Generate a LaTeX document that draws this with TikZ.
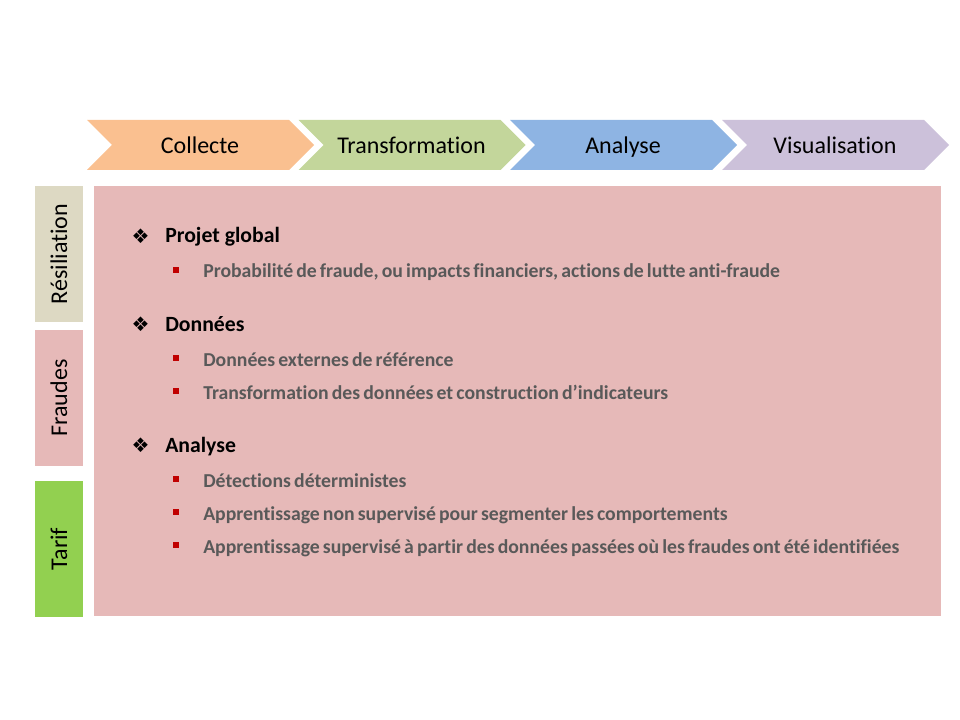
\documentclass[tikz,border=0pt]{standalone}
\usepackage{fontspec}
\setmainfont{Carlito}[Ligatures=NoCommon]
\newfontfamily\itemfont{Carlito}[Ligatures=NoCommon, WordSpace=0.7]
\newfontfamily\symfont{DejaVu Sans}
\usetikzlibrary{positioning}

\definecolor{chevorange}{HTML}{FAC090}
\definecolor{chevgreen}{HTML}{C3D69B}
\definecolor{chevblue}{HTML}{8EB4E3}
\definecolor{chevpurple}{HTML}{CCC1DA}
\definecolor{panelpink}{HTML}{E6B9B8}
\definecolor{resilbeige}{HTML}{DDD9C3}
\definecolor{tarifgreen}{HTML}{92D050}
\definecolor{itemgray}{HTML}{595959}
\definecolor{bulletred}{HTML}{C00000}

\begin{document}
\begin{tikzpicture}[
  x=0.75pt, y=-0.75pt,
  steptext/.style={anchor=base, inner sep=0pt,
    font=\fontsize{18}{21}\selectfont, text=black},
  sidebox/.style={fill=#1, draw=none, rotate=90, inner sep=0pt,
    minimum width=102pt, minimum height=36pt,
    font=\fontsize{18}{21}\selectfont},
  panel/.style={fill=panelpink, draw=none, inner sep=0pt,
    minimum width=635.25pt, minimum height=322.5pt},
  head/.style={anchor=base west, inner sep=0pt,
    font=\bfseries\fontsize{16.3}{19}\selectfont},
  item/.style={anchor=base west, inner sep=0pt, text=itemgray,
    font=\itemfont\bfseries\fontsize{14.8}{17}\selectfont},
  headmark/.style={inner sep=0pt, font=\symfont\bfseries\fontsize{15}{17}\selectfont},
  itemmark/.style={fill=bulletred, inner sep=0pt, minimum size=4.5pt}
]
\useasboundingbox (0,0) rectangle (960,720);

% Process chevrons
\foreach \x/\col/\name/\txt in {87/chevorange/collecte/Collecte,
    298.5/chevgreen/transfo/Transformation,
    510/chevblue/analyse/Analyse,
    722/chevpurple/visu/Visualisation} {
  \fill[\col] (\x,120) -- ++(202,0) -- ++(25,25) -- ++(-25,25)
    -- ++(-202,0) -- ++(25,-25) -- cycle;
  \node[steptext] (\name) at (\x+113,154) {\txt};
}

% Side labels
\node[sidebox=resilbeige] (resil) at (59,254) {Résiliation};
\node[sidebox=panelpink] (fraudes) at (59,398) {Fraudes};
\node[sidebox=tarifgreen] (tarif) at (59,549) {Tarif};

% Main panel
\node[panel] (main) at (517.5,401) {};

% Headings
\node[head] (projet) at (165,243) {Projet global};
\node[head] (donnees) at (165,331) {Données};
\node[head] (analyse-h) at (165,452) {Analyse};
\foreach \y/\n in {243/1, 331/2, 452/3}
  \node[headmark] (hm\n) at (140.5,\y-7) {❖};

% Items
\node[item] (proba) at (203,278) {Probabilité de fraude, ou impacts financiers, actions de lutte anti-fraude};
\node[item] (externes) at (203,366) {Données externes de référence};
\node[item] (indic) at (203,399) {Transformation des données et construction d’indicateurs};
\node[item] (detect) at (203,487) {Détections déterministes};
\node[item] (nonsup) at (203,520) {Apprentissage non supervisé pour segmenter les comportements};
\node[item] (sup) at (203,553) {Apprentissage supervisé à partir des données passées où les fraudes ont été identifiées};
\foreach \y/\n in {278/1, 366/2, 399/3, 487/4, 520/5, 553/6}
  \node[itemmark] (im\n) at (176,\y-8) {};

\end{tikzpicture}
\end{document}
